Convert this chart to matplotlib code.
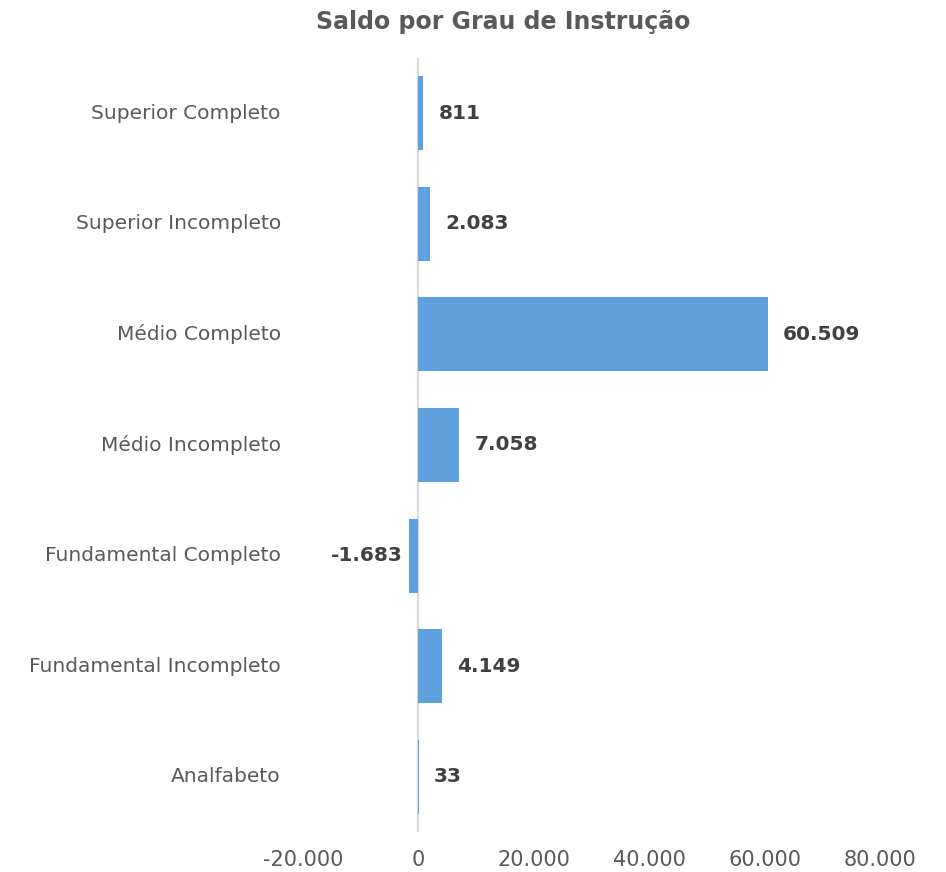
import matplotlib
matplotlib.use("Agg")
import matplotlib.pyplot as plt

categorias = ["Superior Completo", "Superior Incompleto", "Médio Completo",
              "Médio Incompleto", "Fundamental Completo", "Fundamental Incompleto",
              "Analfabeto"]
saldo = [811, 2083, 60509, 7058, -1683, 4149, 33]
ticks_x = [-20000, 0, 20000, 40000, 60000, 80000]


def fmt(v):
    return f"{v:,}".replace(",", ".")


plt.rcParams['font.family'] = ['DejaVu Sans']

fig = plt.figure(figsize=(9.46, 8.72), dpi=100)
ax = fig.add_axes([0.3203, 0.0459, 0.6099, 0.8876])

pos = list(range(len(categorias)))
ax.barh(pos, saldo, height=0.67, color="#5FA0DE", zorder=2)
ax.axvline(0, color="#D9D9D9", lw=1.6, zorder=1)

for i, v in zip(pos, saldo):
    off = 11 if v >= 0 else -4
    ax.annotate(fmt(v), (v, i), xytext=(off, 0), textcoords="offset points",
                ha="left" if v >= 0 else "right", va="center",
                fontsize=14.5, fontweight="bold", color="#404040")

ax.set_xlim(-20000, 80000)
ax.set_ylim(len(categorias) - 0.5, -0.5)
ax.set_yticks(pos)
ax.set_yticklabels(categorias, fontsize=14.5, color="#595959", va="center")
ax.set_xticks(ticks_x)
ax.set_xticklabels([fmt(t) for t in ticks_x], fontsize=15, color="#595959")
ax.tick_params(axis="both", length=0)
ax.tick_params(axis="y", pad=16)
ax.tick_params(axis="x", pad=13)
for s in ax.spines.values():
    s.set_visible(False)

fig.text(503 / 946, 1 - 22 / 872, "Saldo por Grau de Instrução", ha="center", va="center",
         fontsize=17, fontweight="bold", color="#595959")

fig.savefig("out.png", dpi=100)
